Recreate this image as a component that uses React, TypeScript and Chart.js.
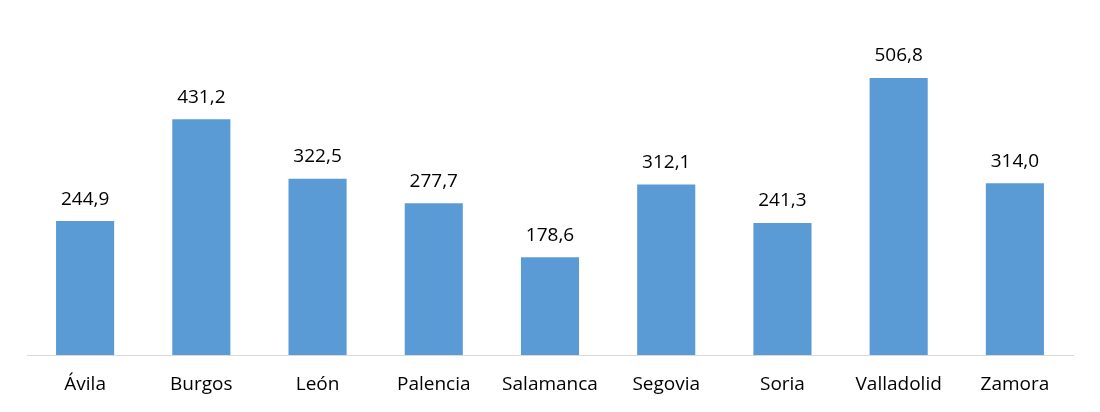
import React, { useEffect, useRef } from "react";
import { Chart, registerables } from "chart.js";

Chart.register(...registerables);

const categories = ["Ávila", "Burgos", "León", "Palencia", "Salamanca", "Segovia", "Soria", "Valladolid", "Zamora"];
const values = [244.9, 431.2, 322.5, 277.7, 178.6, 312.1, 241.3, 506.8, 314.0];

const FONT = "'Open Sans', sans-serif";

const labelPlugin = {
  id: "barLabels",
  afterDatasetsDraw(chart: any) {
    const ctx = chart.ctx;
    const meta = chart.getDatasetMeta(0);
    ctx.save();
    ctx.font = `19px ${FONT}`;
    ctx.fillStyle = "#000000";
    ctx.textAlign = "center";
    ctx.textBaseline = "middle";
    meta.data.forEach((bar: any, i: number) => {
      const txt = values[i].toFixed(1).replace(".", ",");
      ctx.fillText(txt, bar.x, bar.y - 22);
    });
    ctx.restore();
  },
};

export default function App() {
  const ref = useRef<HTMLCanvasElement | null>(null);
  useEffect(() => {
    if (!ref.current) return;
    const chart = new Chart(ref.current, {
      type: "bar",
      data: {
        labels: categories,
        datasets: [
          {
            data: values,
            backgroundColor: "#5B9BD5",
            borderWidth: 0,
            barPercentage: 1,
            categoryPercentage: 0.5,
          },
        ],
      },
      options: {
        animation: false,
        responsive: false,
        maintainAspectRatio: false,
        layout: { padding: { top: 27, left: 27, right: 27, bottom: 0 } },
        plugins: { legend: { display: false }, tooltip: { enabled: false } },
        scales: {
          x: {
            grid: { display: false, drawTicks: false },
            border: { display: true, color: "#D9D9D9", width: 1 },
            ticks: { color: "#000000", font: { family: FONT, size: 19 }, padding: 18, maxRotation: 0 },
            afterFit: (s: any) => {
              s.height = 57;
            },
          },
          y: {
            display: false,
            min: 0,
            max: 600,
          },
        },
      },
      plugins: [labelPlugin],
    });
    return () => chart.destroy();
  }, []);
  return (
    <div style={{ position: "fixed", left: 0, top: 0, width: 1100, height: 412, background: "#fff" }}>
      <canvas ref={ref} width={1100} height={412} style={{ width: 1100, height: 412, display: "block" }} />
    </div>
  );
}
